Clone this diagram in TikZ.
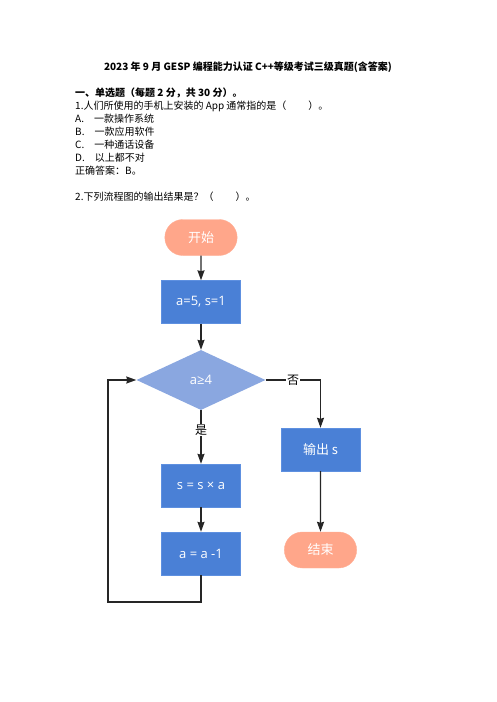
\documentclass[tikz,border=0pt]{standalone}
\usepackage{fontspec}
\usepackage{tikz}
\usetikzlibrary{shapes.geometric,shapes.misc,arrows.meta}
\newfontfamily\cjk{Noto Sans CJK SC}
\newfontfamily\formule{Open Sans}
\definecolor{saumon}{HTML}{FFA68A}
\definecolor{bleu_bloc}{HTML}{4A80D6}
\definecolor{bleu_bord}{HTML}{5E90E0}
\definecolor{bleu_test}{HTML}{8AA7E0}
\definecolor{gris_trait}{HTML}{262626}
\tikzset{
  ligne/.style={anchor=west, font=\cjk\fontsize{10}{12}\selectfont, inner sep=0pt},
  debut/.style={rounded rectangle, fill=saumon, draw=saumon!90!white, text=white,
    minimum width=79pt, minimum height=36pt, font=\cjk\fontsize{13}{15}\selectfont},
  bloc/.style={rectangle, fill=bleu_bloc, draw=bleu_bord, text=white,
    minimum width=79pt, minimum height=43pt, font=\formule\fontsize{13}{15}\selectfont},
  losange/.style={diamond, fill=bleu_test, text=white, inner sep=0pt,
    minimum width=129pt, minimum height=60pt, font=\formule\fontsize{13}{15}\selectfont},
  fleche/.style={->, gris_trait, line width=1.4pt},
  etiq/.style={fill=white, text=black, inner sep=1pt, font=\cjk\fontsize{12}{14}\selectfont}
}
\begin{document}
\begin{tikzpicture}[x=1pt,y=-1pt,>={Stealth[length=10pt,width=7pt,inset=1pt]}]

    % Fixer la taille de la page
    \useasboundingbox (0,0) rectangle (496,702);

    % Titre et questions
    \node[font=\cjk\bfseries\fontsize{10}{12}\selectfont, inner sep=0pt] (titre) at (248,67)
      {2023 年 9 月 GESP 编程能力认证 C++等级考试三级真题(含答案)};
    \node[ligne, font=\cjk\bfseries\fontsize{10}{12}\selectfont] (partie) at (75,93) {一、单选题（每题 2 分，共 30 分）。};
    \node[ligne] (q1) at (75,106) {1.人们所使用的手机上安装的 App 通常指的是（\hspace{2.2em}）。};
    \node[ligne] (qa) at (75,119) {A.\hspace{1em}一款操作系统};
    \node[ligne] (qb) at (75,132) {B.\hspace{1em}一款应用软件};
    \node[ligne] (qc) at (75,145) {C.\hspace{1em}一种通话设备};
    \node[ligne] (qd) at (75,158) {D.\hspace{1em}以上都不对};
    \node[ligne] (rep) at (75,171) {正确答案：B。};
    \node[ligne] (q2) at (75,197) {2.下列流程图的输出结果是？（\hspace{2.2em}）。};

    % Les blocs de l'organigramme
    \node[debut] (debut) at (201,237.5) {开始};
    \node[bloc] (init) at (201,302) {a=5, s=1};
    \node[losange] (test) at (201,380) {a≥4};
    \node[bloc] (calc) at (201,485.5) {s = s × a};
    \node[bloc] (decr) at (201,553.5) {a = a -1};
    \node[bloc, font=\cjk\fontsize{13}{15}\selectfont] (sortie) at (320.5,449.5) {输出 s};
    \node[debut] (fin) at (320.5,550) {结束};

    % Point de retour de la boucle
    \coordinate (retour) at (108,602);

    % Les flèches
    \draw[fleche] (debut) -- (init);
    \draw[fleche] (init) -- (test);
    \draw[fleche] (test.east) -| node[etiq, pos=0.25] {否} (sortie.north);
    \draw[fleche] (test.south) -- node[etiq, pos=0.37] {是} (calc.north);
    \draw[fleche] (calc) -- (decr);
    \draw[fleche] (decr.south) |- (retour) |- (test.west);
    \draw[fleche] (sortie) -- (fin);
  \end{tikzpicture}
\end{document}
